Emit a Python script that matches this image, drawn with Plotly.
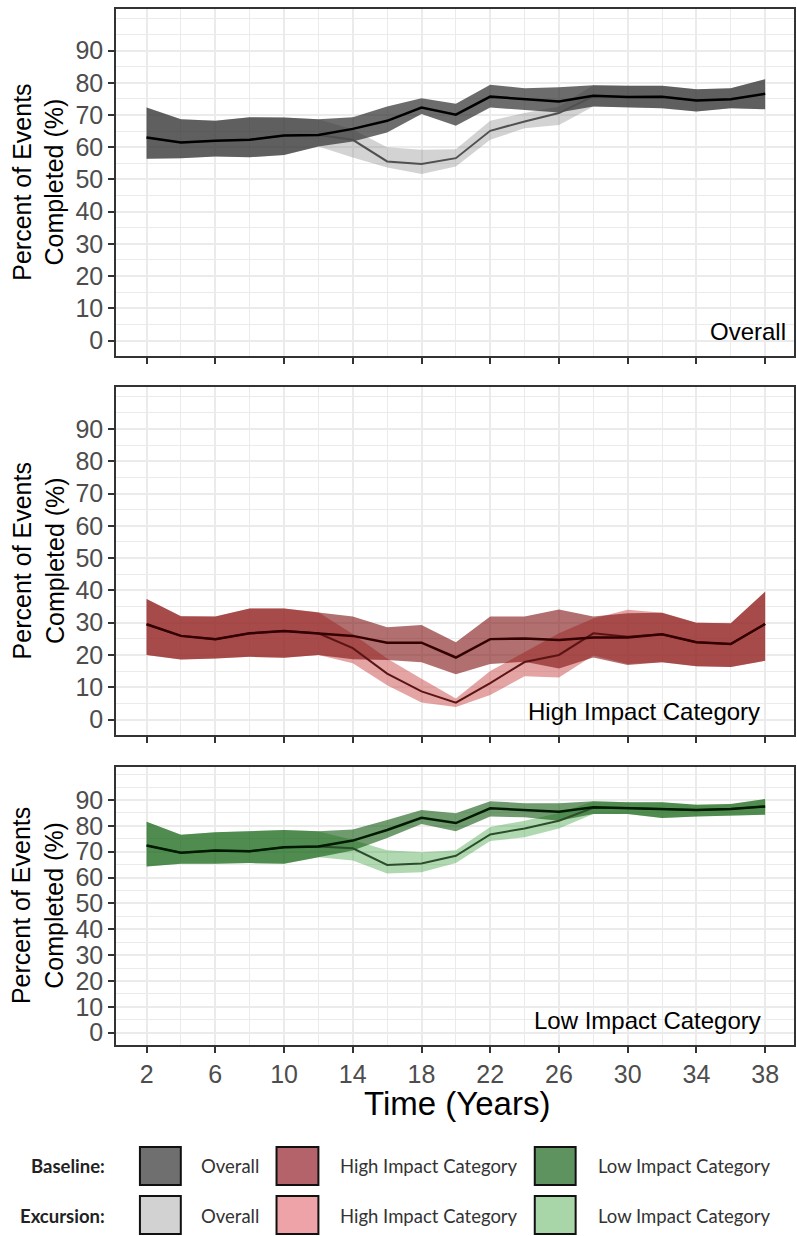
import plotly.graph_objects as go

# ---------------- data ----------------
years = [2, 4, 6, 8, 10, 12, 14, 16, 18, 20, 22, 24, 26, 28, 30, 32, 34, 36, 38]

ov_base_mean = [63.0, 61.5, 62.0, 62.3, 63.6, 63.8, 65.7, 68.2, 72.3, 70.1, 75.7, 74.9, 74.2, 76.0, 75.6, 75.7, 74.5, 74.9, 76.6]
ov_base_lo   = [56.4, 56.6, 57.1, 56.9, 57.6, 60.2, 61.8, 64.6, 70.3, 66.7, 72.3, 71.6, 70.8, 72.6, 72.4, 72.1, 71.1, 72.1, 71.8]
ov_base_hi   = [72.3, 68.7, 68.2, 69.3, 69.2, 68.7, 69.3, 72.6, 75.2, 73.5, 79.4, 78.3, 78.6, 79.2, 79.1, 79.1, 78.0, 78.3, 81.1]
ov_exc_mean  = [63.0, 61.5, 62.0, 62.3, 63.6, 63.8, 62.3, 55.6, 54.8, 56.6, 65.1, 68.0, 70.6, 75.8, 75.6, 75.7, 74.5, 74.9, 76.6]
ov_exc_lo    = [56.4, 56.6, 57.1, 56.9, 57.6, 60.2, 56.8, 53.7, 51.7, 54.0, 62.3, 65.9, 66.9, 72.6, 72.4, 72.1, 71.1, 72.1, 71.8]
ov_exc_hi    = [72.3, 68.7, 68.2, 69.3, 69.2, 68.7, 65.5, 60.0, 59.2, 59.4, 68.2, 70.6, 72.6, 79.2, 79.1, 79.1, 78.0, 78.3, 81.1]

hi_base_mean = [29.5, 25.9, 24.9, 26.7, 27.4, 26.7, 25.9, 23.8, 23.8, 19.2, 24.9, 25.1, 24.6, 25.4, 25.4, 26.4, 23.9, 23.4, 29.6]
hi_base_lo   = [20.0, 18.6, 18.9, 19.4, 19.1, 20.0, 18.7, 18.4, 17.7, 14.0, 17.2, 17.9, 15.8, 19.2, 16.9, 17.7, 16.5, 16.3, 18.2]
hi_base_hi   = [37.3, 32.0, 31.9, 34.4, 34.4, 33.2, 31.9, 28.6, 29.3, 23.9, 31.9, 31.9, 34.1, 31.9, 32.9, 33.1, 30.0, 29.8, 39.6]
hi_exc_mean  = [29.5, 25.9, 24.9, 26.7, 27.4, 26.7, 22.1, 14.2, 8.7, 5.2, 11.3, 17.8, 20.0, 26.7, 25.6, 26.4, 23.9, 23.4, 29.6]
hi_exc_lo    = [20.0, 18.6, 18.9, 19.4, 19.1, 20.0, 17.4, 10.6, 5.3, 3.9, 7.6, 13.4, 13.0, 19.8, 17.2, 17.7, 16.5, 16.3, 18.2]
hi_exc_hi    = [37.3, 32.0, 31.9, 34.4, 34.4, 33.2, 26.5, 18.9, 12.6, 6.5, 15.0, 20.9, 26.7, 31.3, 34.0, 33.1, 30.0, 29.8, 39.6]

lo_base_mean = [72.4, 69.6, 70.5, 70.2, 71.7, 72.0, 74.3, 78.4, 83.1, 81.1, 86.8, 86.1, 85.5, 87.2, 86.9, 86.5, 86.1, 86.5, 87.5]
lo_base_lo   = [64.3, 65.3, 65.3, 65.6, 65.3, 67.9, 70.5, 75.3, 80.7, 77.9, 83.6, 83.3, 82.0, 84.6, 84.6, 83.0, 83.6, 84.0, 84.3]
lo_base_hi   = [81.6, 76.6, 77.5, 77.9, 78.4, 77.9, 78.6, 82.3, 86.1, 84.9, 89.5, 88.8, 88.8, 89.5, 89.1, 89.1, 88.2, 88.5, 90.4]
lo_exc_mean  = [72.4, 69.6, 70.5, 70.2, 71.7, 72.0, 71.3, 64.9, 65.4, 68.4, 76.7, 79.0, 82.0, 87.0, 86.9, 86.5, 86.1, 86.5, 87.5]
lo_exc_lo    = [64.3, 65.3, 65.3, 65.6, 65.3, 67.9, 66.6, 61.6, 62.1, 65.6, 74.1, 75.6, 79.0, 84.6, 84.6, 83.0, 83.6, 84.0, 84.3]
lo_exc_hi    = [81.6, 76.6, 77.5, 77.9, 78.4, 77.9, 74.5, 70.6, 69.8, 70.6, 79.6, 82.0, 85.0, 89.5, 89.1, 89.1, 88.2, 88.5, 90.4]

x_ticks = [2, 6, 10, 14, 18, 22, 26, 30, 34, 38]
y_ticks = [0, 10, 20, 30, 40, 50, 60, 70, 80, 90]
panel_labels = ["Overall", "High Impact Category", "Low Impact Category"]
legend_rows = ["Baseline:", "Excursion:"]
legend_items = ["Overall", "High Impact Category", "Low Impact Category"]

# ---------------- geometry ----------------
W, H = 797, 1236
ML, MR, MT, MB = 116, 1, 9, 191
PW = W - ML - MR
PH = H - MT - MB
def px_x(p):
    return (p - ML) / PW
def px_y(p):
    return (H - MB - p) / PH

domains = [
    [px_y(356), 1.0],
    [px_y(735), px_y(387.3)],
    [0.0, px_y(766.7)],
]
FONT = "Liberation Sans"

panels = [
    dict(bm=ov_base_mean, bl=ov_base_lo, bh=ov_base_hi, em=ov_exc_mean, el=ov_exc_lo, eh=ov_exc_hi,
         efill="rgba(128,128,128,0.35)", bfill="rgba(45,45,45,0.7)", eline="#505050", bline="#000000"),
    dict(bm=hi_base_mean, bl=hi_base_lo, bh=hi_base_hi, em=hi_exc_mean, el=hi_exc_lo, eh=hi_exc_hi,
         efill="rgba(205,90,90,0.55)", bfill="rgba(125,15,15,0.6)", eline="#5a1414", bline="#330000"),
    dict(bm=lo_base_mean, bl=lo_base_lo, bh=lo_base_hi, em=lo_exc_mean, el=lo_exc_lo, eh=lo_exc_hi,
         efill="rgba(60,160,60,0.4)", bfill="rgba(15,88,15,0.6)", eline="#2b4d2b", bline="#001a00"),
]

fig = go.Figure()
for i, p in enumerate(panels):
    xa = "x" if i == 0 else f"x{i+1}"
    ya = "y" if i == 0 else f"y{i+1}"
    poly_x = years + years[::-1]
    fig.add_trace(go.Scatter(x=poly_x, y=p["eh"] + p["el"][::-1], fill="toself", fillcolor=p["efill"],
                             line=dict(width=0), mode="lines", xaxis=xa, yaxis=ya, hoverinfo="skip"))
    fig.add_trace(go.Scatter(x=poly_x, y=p["bh"] + p["bl"][::-1], fill="toself", fillcolor=p["bfill"],
                             line=dict(width=0), mode="lines", xaxis=xa, yaxis=ya, hoverinfo="skip"))
    fig.add_trace(go.Scatter(x=years, y=p["em"], mode="lines", line=dict(color=p["eline"], width=2),
                             xaxis=xa, yaxis=ya))
    fig.add_trace(go.Scatter(x=years, y=p["bm"], mode="lines", line=dict(color=p["bline"], width=2.5),
                             xaxis=xa, yaxis=ya))

axis_common = dict(showline=True, linecolor="#333333", linewidth=1.5, mirror=True,
                   ticks="outside", ticklen=6, tickwidth=1.5, tickcolor="#333333",
                   showgrid=True, gridcolor="#EBEBEB", gridwidth=2, zeroline=False,
                   tickfont=dict(family=FONT, size=25, color="#4D4D4D"))

layout = dict(width=W, height=H, margin=dict(l=ML, r=MR, t=MT, b=MB),
              paper_bgcolor="white", plot_bgcolor="white", showlegend=False)
for i in range(3):
    kx = "xaxis" if i == 0 else f"xaxis{i+1}"
    ky = "yaxis" if i == 0 else f"yaxis{i+1}"
    ya = "y" if i == 0 else f"y{i+1}"
    xa = "x" if i == 0 else f"x{i+1}"
    layout[kx] = dict(axis_common, range=[0.22, 39.68], tickmode="array", tickvals=x_ticks,
                      anchor=ya, domain=[0, 1], showticklabels=(i == 2),
                      minor=dict(dtick=2, tick0=0, showgrid=True, gridcolor="#EBEBEB", gridwidth=1, ticks=""))
    layout[ky] = dict(axis_common, range=[-4.8, 102.9], tickmode="array", tickvals=y_ticks,
                      anchor=xa, domain=domains[i],
                      minor=dict(dtick=5, tick0=0, showgrid=True, gridcolor="#EBEBEB", gridwidth=1, ticks=""))
fig.update_layout(**layout)

ann = []
# y titles
for i in range(3):
    d = domains[i]
    ann.append(dict(text="Percent of Events<br>Completed (%)", x=px_x(38), y=(d[0] + d[1]) / 2,
                    xref="paper", yref="paper", textangle=-90, showarrow=False,
                    font=dict(family=FONT, size=25, color="black"), xanchor="center", yanchor="middle"))
# panel labels
lab_pos = [(790, 331), (764, 711), (765, 1020)]
for lab, (lx, ly) in zip(panel_labels, lab_pos):
    ann.append(dict(text=lab, x=px_x(lx), y=px_y(ly), xref="paper", yref="paper", showarrow=False,
                    xanchor="right", yanchor="middle", font=dict(family=FONT, size=24, color="black")))
# x title
ann.append(dict(text="Time (Years)", x=px_x(457.8), y=px_y(1103), xref="paper", yref="paper",
                showarrow=False, xanchor="center", yanchor="middle",
                font=dict(family=FONT, size=33, color="black")))

# legend block
LFONT = "Lato"
row_y = [1166, 1216]
box_rows = [(1147, 1185), (1196, 1234)]
box_x = [(140, 181), (277, 319), (536, 577)]
box_colors = [["#6F6F6F", "#B4636B", "#5E925F"], ["#D2D2D2", "#EEA3A8", "#A9D6A9"]]
text_x = [(230, "center"), (339, "left"), (597, "left")]
shapes = []
for r in range(2):
    ann.append(dict(text=f"<b>{legend_rows[r]}</b>", x=px_x(107), y=px_y(row_y[r]), xref="paper", yref="paper",
                    showarrow=False, xanchor="right", yanchor="middle",
                    font=dict(family=LFONT, size=18.5, color="#222222")))
    for c in range(3):
        x0, x1 = box_x[c]
        y0, y1 = box_rows[r]
        shapes.append(dict(type="rect", xref="paper", yref="paper", x0=px_x(x0), x1=px_x(x1),
                           y0=px_y(y1), y1=px_y(y0), fillcolor=box_colors[r][c],
                           line=dict(color="#111111", width=2)))
        tx, anc = text_x[c]
        ann.append(dict(text=legend_items[c], x=px_x(tx), y=px_y(row_y[r]), xref="paper", yref="paper",
                        showarrow=False, xanchor=anc, yanchor="middle",
                        font=dict(family=LFONT, size=18.5, color="#333333")))

fig.update_layout(annotations=ann, shapes=shapes)
fig.write_html("out.html", config={"displayModeBar": False},
               post_script="document.body.style.margin='0';document.body.style.overflow='hidden';")
